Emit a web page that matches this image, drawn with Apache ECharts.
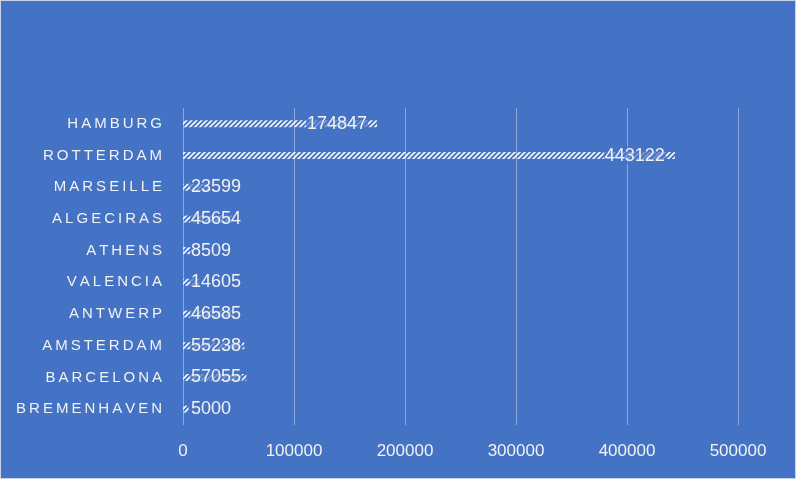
<!DOCTYPE html>
<html>
<head>
<meta charset="utf-8">
<script src="https://cdn.jsdelivr.net/npm/echarts@6/dist/echarts.min.js"></script>
<style>
    html, body { margin: 0; padding: 0; background: #ffffff; }
    #barChart { width: 794px; height: 477px; border: 1px solid #c9d3e6; }
</style>
</head>
<body>
<div id="barChart"></div>
<script>
// ports, listed top to bottom
let ports = ['HAMBURG', 'ROTTERDAM', 'MARSEILLE', 'ALGECIRAS', 'ATHENS', 'VALENCIA', 'ANTWERP', 'AMSTERDAM', 'BARCELONA', 'BREMENHAVEN'];
let volumes = [174847, 443122, 23599, 45654, 8509, 14605, 46585, 55238, 57055, 5000];
let axisTicks = [0, 100000, 200000, 300000, 400000, 500000];

const textColor = '#f2f2f2';
const bgColor = '#4472c4';

// white diagonal hatch used to fill the bars
function makeHatch() {
    let c = document.createElement('canvas');
    c.width = 5;
    c.height = 5;
    let ctx = c.getContext('2d');
    ctx.strokeStyle = 'rgba(255,255,255,0.95)';
    ctx.lineWidth = 1.6;
    ctx.beginPath();
    ctx.moveTo(-1, 6); ctx.lineTo(6, -1);
    ctx.moveTo(-1, 1); ctx.lineTo(1, -1);
    ctx.moveTo(4, 6); ctx.lineTo(6, 4);
    ctx.stroke();
    return c;
}
const hatch = { image: makeHatch(), repeat: 'repeat' };

let barData = volumes.map(v => ({
    value: v,
    label: v > 100000
        ? { position: 'insideRight', distance: 9 }
        : { position: 'insideLeft', distance: 7 }
}));

let barChartDom = document.getElementById('barChart');
let barChart = echarts.init(barChartDom);

let barChartOption = {
    backgroundColor: bgColor,
    animation: false,
    textStyle: { fontFamily: 'Liberation Sans' },
    grid: {
        left: 182,
        right: 57,
        top: 107,
        bottom: 53
    },
    xAxis: {
        type: 'value',
        min: axisTicks[0],
        max: axisTicks[axisTicks.length - 1],
        interval: axisTicks[1] - axisTicks[0],
        axisLine: { show: false },
        axisTick: { show: false },
        axisLabel: {
            color: textColor,
            fontSize: 17,
            margin: 18,
            formatter: v => String(v)
        },
        splitLine: {
            lineStyle: { color: '#8eaadb', width: 1 }
        }
    },
    yAxis: {
        type: 'category',
        inverse: true,
        data: ports,
        axisLine: { show: false },
        axisTick: { show: false },
        axisLabel: {
            color: textColor,
            fontSize: 15,
            margin: 21,
            formatter: v => v.split('').join('\u2009')
        }
    },
    series: [
        {
            type: 'bar',
            data: barData,
            barWidth: 7,
            itemStyle: { color: hatch },
            label: {
                show: true,
                color: textColor,
                fontSize: 18,
                backgroundColor: 'rgba(68,114,196,0.7)',
                padding: [0, 1]
            }
        }
    ]
};

barChart.setOption(barChartOption);

window.addEventListener('resize', () => {
    barChart.resize();
});
</script>
</body>
</html>
